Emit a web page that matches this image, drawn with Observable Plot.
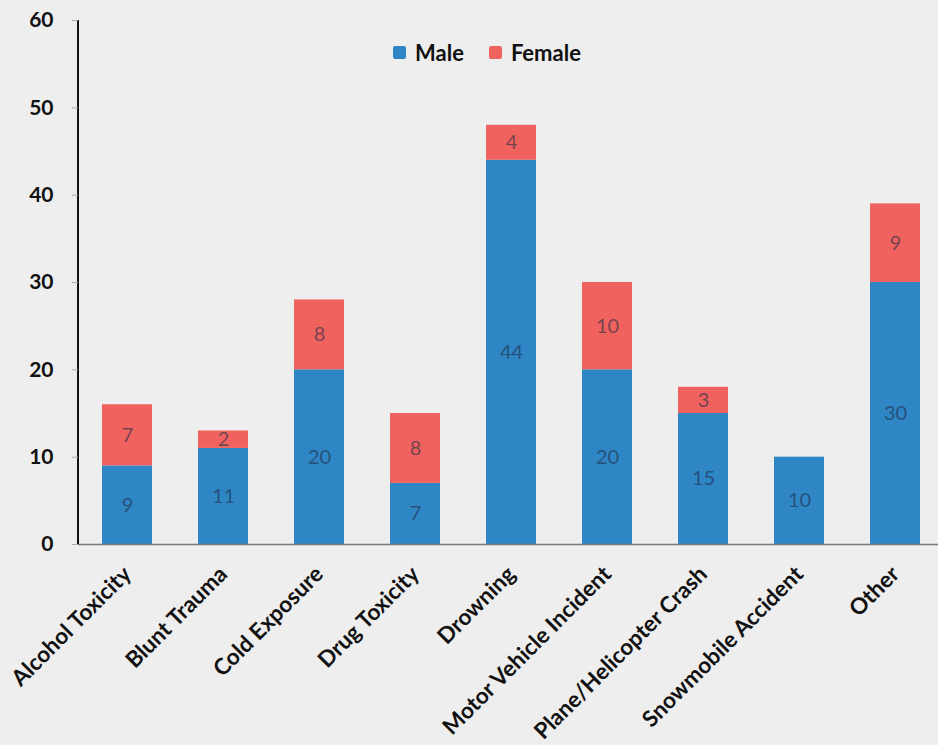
<!DOCTYPE html>
<html>
<head>
<meta charset="utf-8">
<script src="https://cdn.jsdelivr.net/npm/d3@7"></script>
<script src="https://cdn.jsdelivr.net/npm/@observablehq/plot@0.6"></script>
<style>
  html, body { margin: 0; padding: 0; background: #eeeeee; overflow: hidden; }
  #chart { position: relative; width: 938px; height: 745px; font-family: Lato, "Open Sans", sans-serif; }
  #chart svg { position: absolute; left: 0; top: 0; }
  .legend { position: absolute; top: 39px; left: 393px; display: flex; align-items: center; font-size: 22px; font-weight: 700; color: #111; }
  .legend .item { display: flex; align-items: center; margin-right: 25px; }
  .legend .sw { width: 13px; height: 13px; margin-right: 9px; border-radius: 2px; }
</style>
</head>
<body>
<div id="chart"></div>
<script>
// Causes of death, split by sex
const categories = [
  "Alcohol Toxicity", "Blunt Trauma", "Cold Exposure", "Drug Toxicity", "Drowning",
  "Motor Vehicle Incident", "Plane/Helicopter Crash", "Snowmobile Accident", "Other"
];
const male   = [9, 11, 20, 7, 44, 20, 15, 10, 30];
const female = [7, 2, 8, 8, 4, 10, 3, 0, 9];
const series = ["Male", "Female"];
const colors = ["#2e86c4", "#f0625d"];
const yTicks = [0, 10, 20, 30, 40, 50, 60];

// Long format: male first so it sits at the bottom of each stack
const rows = categories.flatMap((cause, i) => [
  {cause, sex: "Male", count: male[i]},
  {cause, sex: "Female", count: female[i]}
]).filter(d => d.count > 0);

// Vertical axis line along the left edge of the frame
const yAxisLine = (index, scales, values, dimensions) => {
  const g = d3.create("svg:g");
  g.append("line")
    .attr("x1", dimensions.marginLeft).attr("x2", dimensions.marginLeft)
    .attr("y1", scales.y(60)).attr("y2", scales.y(0))
    .attr("stroke", "#111").attr("stroke-width", 2);
  return g.node();
};

const plot = Plot.plot({
  width: 938,
  height: 745,
  marginLeft: 78,
  marginRight: 0,
  marginTop: 20,
  marginBottom: 201,
  style: {background: "transparent", fontFamily: "Lato, 'Open Sans', sans-serif"},
  x: {domain: categories, range: [78, 944], paddingInner: 0.48, paddingOuter: 0.25, label: null},
  y: {domain: [0, 60], label: null},
  color: {domain: series, range: colors},
  marks: [
    Plot.barY(rows, {x: "cause", y: "count", fill: "sex"}),
    Plot.text(rows, Plot.stackY({
      x: "cause", y: "count", text: "count",
      fill: "#1f2d4a", fillOpacity: 0.6, fontSize: 20
    })),
    Plot.ruleY([0], {stroke: "#777", strokeWidth: 1.5}),
    yAxisLine,
    Plot.axisY({
      ticks: yTicks, tickSize: 6, tickPadding: 19, stroke: "#aaa",
      fill: "#111", fontSize: 21, fontWeight: 700, label: null
    }),
    Plot.axisX({
      tickSize: 0, tickPadding: 26, tickRotate: -45, textAnchor: "end",
      fill: "#111", fontSize: 22.5, fontWeight: 700, label: null
    })
  ]
});

const chart = document.getElementById("chart");
chart.appendChild(plot);

// Legend overlaid at the top of the plot area
const legend = document.createElement("div");
legend.className = "legend";
series.forEach((s, i) => {
  const item = document.createElement("div");
  item.className = "item";
  const sw = document.createElement("span");
  sw.className = "sw";
  sw.style.background = colors[i];
  const label = document.createElement("span");
  label.textContent = s;
  item.append(sw, label);
  legend.appendChild(item);
});
chart.appendChild(legend);
</script>
</body>
</html>
